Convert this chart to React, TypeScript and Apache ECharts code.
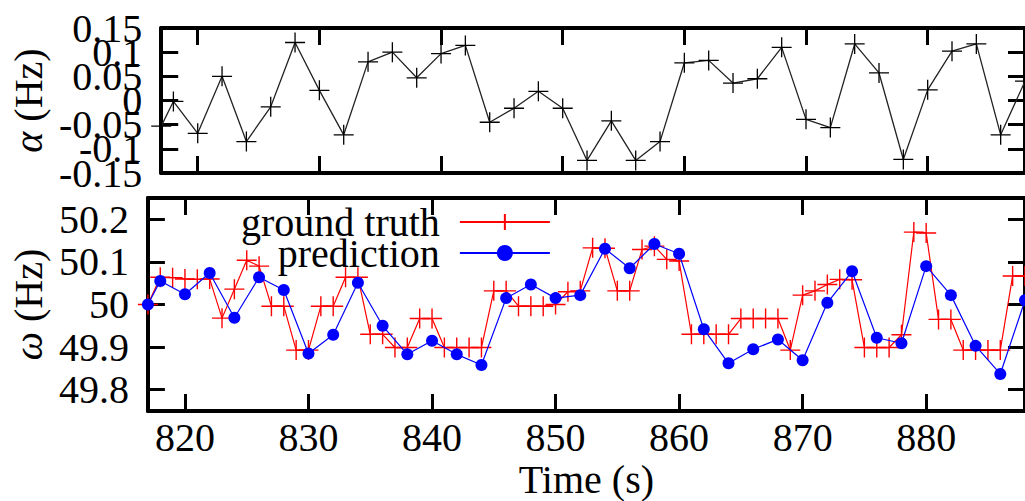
import React, { useEffect, useRef } from "react";
import * as echarts from "echarts";

// ---- data ----
const xTicks = [820, 830, 840, 850, 860, 870, 880];
const aTicks = [-0.15, -0.1, -0.05, 0, 0.05, 0.1, 0.15];
const aLabelsOdd = [-0.15, -0.05, 0.05, 0.15];
const aLabelsEven = [-0.1, 0, 0.1];
const omegaTicks = [49.8, 49.9, 50.0, 50.1, 50.2];

const aTime = [817, 818, 820, 822, 824, 826, 828, 830, 832, 834, 836, 838, 840, 842, 844, 846, 848, 850, 852, 854, 856, 858, 860, 862, 864, 866, 868, 870, 872, 874, 876, 878, 880, 882, 884, 886, 888];
const aValue = [-0.053, -0.002, -0.068, 0.05, -0.085, -0.013, 0.12, 0.021, -0.071, 0.08, 0.1, 0.047, 0.097, 0.114, -0.045, -0.016, 0.019, -0.016, -0.124, -0.042, -0.124, -0.085, 0.078, 0.083, 0.036, 0.045, 0.11, -0.039, -0.056, 0.117, 0.057, -0.122, 0.022, 0.102, 0.117, -0.071, 0.04];

const truthTime = [817, 818, 819, 820, 821, 822, 823, 824, 825, 826, 827, 828, 829, 830, 831, 832, 833, 834, 835, 836, 837, 838, 839, 840, 841, 842, 843, 844, 845, 846, 847, 848, 849, 850, 851, 852, 853, 854, 855, 856, 857, 858, 859, 860, 861, 862, 863, 864, 865, 866, 867, 868, 869, 870, 871, 872, 873, 874, 875, 876, 877, 878, 879, 880, 881, 882, 883, 884, 885, 886, 887, 888];
const truthValue = [50.0, 50.064, 50.063, 50.06, 50.059, 50.06, 49.968, 50.036, 50.104, 50.09, 49.996, 49.996, 49.893, 49.893, 49.996, 49.996, 50.064, 50.064, 49.93, 49.93, 49.899, 49.899, 49.967, 49.967, 49.899, 49.899, 49.899, 49.899, 50.032, 50.032, 49.996, 49.996, 49.996, 50.0, 50.03, 50.032, 50.133, 50.132, 50.032, 50.032, 50.129, 50.137, 50.106, 50.102, 49.93, 49.93, 49.93, 49.93, 49.967, 49.967, 49.967, 49.967, 49.893, 50.022, 50.032, 50.047, 50.059, 50.058, 49.899, 49.899, 49.899, 49.929, 50.17, 50.168, 49.965, 49.965, 49.893, 49.893, 49.893, 49.893, 50.067, 50.067];

const predTime = [817, 818, 820, 822, 824, 826, 828, 830, 832, 834, 836, 838, 840, 842, 844, 846, 848, 850, 852, 854, 856, 858, 860, 862, 864, 866, 868, 870, 872, 874, 876, 878, 880, 882, 884, 886, 888];
const predValue = [50.0, 50.055, 50.024, 50.074, 49.969, 50.064, 50.034, 49.885, 49.929, 50.051, 49.95, 49.883, 49.915, 49.883, 49.858, 50.015, 50.047, 50.015, 50.022, 50.131, 50.085, 50.142, 50.119, 49.942, 49.862, 49.895, 49.918, 49.869, 50.004, 50.078, 49.922, 49.909, 50.09, 50.022, 49.903, 49.837, 50.01];

const FONT = "Liberation Serif";
const CROSS = "path://M10,0L10,20M0,10L20,10";

const pairs = (t: number[], v: number[]) => t.map((x, i) => [x, v[i]]);

const tickStyle = { inside: true, length: 17, lineStyle: { color: "#000", width: 3 } };
const lineAxis = { show: true, onZero: false, lineStyle: { color: "#000", width: 4 } };
const labelStyle = { color: "#000", fontSize: 40, fontFamily: FONT };
const nameStyle = {
  color: "#000", fontSize: 40, fontFamily: FONT,
  rich: { i: { fontStyle: "italic", fontSize: 40, fontFamily: FONT, color: "#000" } },
};
const fmt2 = (v: number) => String(Math.round(v * 100) / 100);

export default function App() {
  const ref = useRef<HTMLDivElement>(null);
  useEffect(() => {
    if (!ref.current) return;
    const chart = echarts.init(ref.current, null, { renderer: "svg" });
    const xBase = { type: "value", min: 817, max: 888, splitLine: { show: false } };
    chart.setOption({
      animation: false,
      backgroundColor: "#fff",
      textStyle: { fontFamily: FONT },
      grid: [
        { left: 146, top: 28, width: 882, height: 145 },
        { left: 146, top: 198, width: 882, height: 213 },
      ],
      xAxis: [
        { ...xBase, gridIndex: 0, position: "bottom", axisLine: lineAxis, axisTick: { ...tickStyle, customValues: xTicks }, axisLabel: { show: false } },
        { ...xBase, gridIndex: 0, position: "top", axisLine: lineAxis, axisTick: { ...tickStyle, customValues: xTicks }, axisLabel: { show: false } },
        {
          ...xBase, gridIndex: 1, position: "bottom", axisLine: lineAxis,
          axisTick: { ...tickStyle, customValues: xTicks },
          axisLabel: { ...labelStyle, margin: 6, customValues: xTicks },
          name: "Time (s)", nameLocation: "middle", nameGap: 48,
          nameTextStyle: { color: "#000", fontSize: 40, fontFamily: FONT },
        },
        { ...xBase, gridIndex: 1, position: "top", axisLine: lineAxis, axisTick: { ...tickStyle, customValues: xTicks }, axisLabel: { show: false } },
      ],
      yAxis: [
        {
          type: "value", gridIndex: 0, position: "left", min: -0.15, max: 0.15,
          splitLine: { show: false }, axisLine: lineAxis,
          axisTick: { ...tickStyle, customValues: aTicks },
          axisLabel: { ...labelStyle, margin: 19, customValues: aLabelsOdd, showMinLabel: true, showMaxLabel: true, formatter: fmt2 },
          name: "{i|α} (Hz)", nameLocation: "middle", nameGap: 97,
          nameTextStyle: nameStyle,
        },
        {
          type: "value", gridIndex: 0, position: "right", min: -0.15, max: 0.15,
          splitLine: { show: false }, axisLine: lineAxis, axisTick: { ...tickStyle, customValues: aTicks }, axisLabel: { show: false },
        },
        {
          type: "value", gridIndex: 1, position: "left", min: 49.75, max: 50.25,
          splitLine: { show: false }, axisLine: lineAxis,
          axisTick: { ...tickStyle, customValues: omegaTicks },
          axisLabel: { ...labelStyle, margin: 19, customValues: omegaTicks, formatter: (v: number) => String(Math.round(v * 10) / 10) },
          name: "{i|ω} (Hz)", nameLocation: "middle", nameGap: 97,
          nameTextStyle: nameStyle,
        },
        {
          type: "value", gridIndex: 1, position: "right", min: 49.75, max: 50.25,
          splitLine: { show: false }, axisLine: lineAxis,
          axisTick: { ...tickStyle, customValues: omegaTicks }, axisLabel: { show: false },
        },
        {
          type: "value", gridIndex: 0, position: "left", offset: 0, min: -0.15, max: 0.15,
          splitLine: { show: false }, axisLine: { show: false }, axisTick: { show: false },
          axisLabel: { ...labelStyle, margin: 19, customValues: aLabelsEven, showMinLabel: true, showMaxLabel: true, formatter: fmt2 },
        },
      ],
      legend: {
        orient: "vertical",
        align: "right",
        left: 241,
        top: 202,
        padding: 0,
        itemGap: -9,
        itemWidth: 90,
        itemHeight: 20,
        data: ["ground truth", "prediction"],
        textStyle: { color: "#000", fontSize: 40, fontFamily: FONT, padding: [0, 15, 0, 0] },
      },
      series: [
        {
          name: "a", type: "line", xAxisIndex: 0, yAxisIndex: 0, data: pairs(aTime, aValue),
          symbol: CROSS, symbolSize: 20, clip: true,
          lineStyle: { color: "#222", width: 1.3 },
          itemStyle: { color: "#000", borderColor: "#000", borderWidth: 1.3 },
        },
        {
          name: "ground truth", type: "line", xAxisIndex: 2, yAxisIndex: 2, data: pairs(truthTime, truthValue),
          symbol: CROSS, symbolSize: 20, clip: true, z: 2,
          lineStyle: { color: "#ff0000", width: 1.2 },
          itemStyle: { color: "#ff0000", borderColor: "#ff0000", borderWidth: 1.4 },
        },
        {
          name: "prediction", type: "line", xAxisIndex: 2, yAxisIndex: 2, data: pairs(predTime, predValue),
          symbol: "circle", symbolSize: 12, clip: true, z: 3,
          lineStyle: { color: "#0000ff", width: 1.2 },
          itemStyle: { color: "#0000ff", borderWidth: 0 },
        },
      ],
    });
    return () => chart.dispose();
  }, []);
  return <div ref={ref} style={{ position: "fixed", left: 0, top: 0, width: 1025, height: 501 }} />;
}
